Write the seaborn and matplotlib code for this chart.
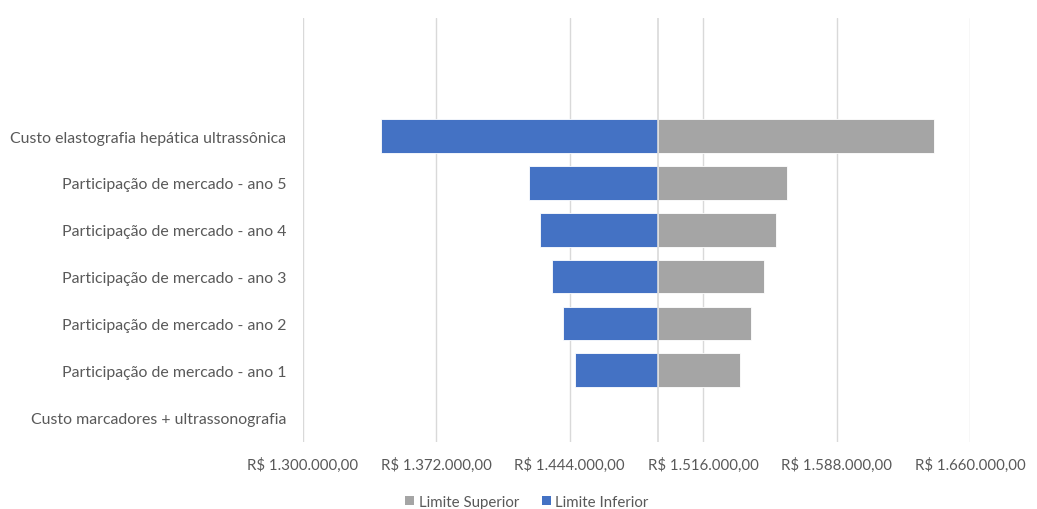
import matplotlib
matplotlib.use("Agg")
import matplotlib.pyplot as plt
from matplotlib.ticker import FixedLocator, FuncFormatter
from matplotlib.patches import Patch
import numpy as np
import pandas as pd
import seaborn as sns

# Tornado chart: sensitivity of the result to each parameter
base_value = 1491400

categories = [
    "Custo elastografia hepática ultrassônica",
    "Participação de mercado - ano 5",
    "Participação de mercado - ano 4",
    "Participação de mercado - ano 3",
    "Participação de mercado - ano 2",
    "Participação de mercado - ano 1",
    "Custo marcadores + ultrassonografia",
]
limite_inferior = [1342000, 1422000, 1428100, 1434300, 1440500, 1446700, 1491400]
limite_superior = [1640400, 1561300, 1555100, 1548900, 1541900, 1535800, 1491400]

tick_values = [1300000, 1372000, 1444000, 1516000, 1588000, 1660000]

COLOR_SUP = "#A5A5A5"
COLOR_INF = "#4472C4"
TEXT = "#595959"
GRID = "#D9D9D9"

# Bars are drawn as deviations from the base value; the axis is labelled in absolute R$
df = pd.DataFrame({
    "categoria": categories * 2,
    "serie": ["Limite Superior"] * len(categories) + ["Limite Inferior"] * len(categories),
    "desvio": [v - base_value for v in limite_superior] + [v - base_value for v in limite_inferior],
})

sns.set_theme(style="white")
plt.rcParams["font.family"] = ["Lato", "DejaVu Sans"]

fig = plt.figure(figsize=(10.37, 5.10), dpi=100)
ax = fig.add_axes([0.2919, 0.1314, 0.6438, 0.8313])

sns.barplot(
    data=df, x="desvio", y="categoria", hue="serie", order=categories,
    hue_order=["Limite Superior", "Limite Inferior"],
    palette=[COLOR_SUP, COLOR_INF], dodge=False, width=0.72,
    edgecolor="white", linewidth=0.6, saturation=1, ax=ax, legend=False, zorder=3,
)

ax.set_xlim(tick_values[0] - base_value, tick_values[-1] - base_value)
ax.set_ylim(len(categories) - 1 + 0.53, -2.52)

ax.xaxis.set_major_locator(FixedLocator([t - base_value for t in tick_values]))


def brl(v, pos=None):
    s = f"{v + base_value:,.2f}"
    s = s.replace(",", "X").replace(".", ",").replace("X", ".")
    return "R$ " + s


ax.xaxis.set_major_formatter(FuncFormatter(brl))
ax.grid(axis="x", color=GRID, linewidth=1.0, zorder=0)
ax.axvline(0, color=GRID, linewidth=1.2, zorder=4)

for side in ["top", "right", "bottom", "left"]:
    ax.spines[side].set_visible(False)

ax.set_xlabel("")
ax.set_ylabel("")
ax.tick_params(axis="x", length=0, pad=11, labelsize=10.8, labelcolor=TEXT)
ax.tick_params(axis="y", length=0, pad=12, labelsize=11.4, labelcolor=TEXT)

handles = [Patch(facecolor=COLOR_SUP, edgecolor="none"), Patch(facecolor=COLOR_INF, edgecolor="none")]
fig.legend(
    handles, ["Limite Superior", "Limite Inferior"], loc="center", bbox_to_anchor=(0.508, 0.014),
    ncol=2, frameon=False, fontsize=10.8, labelcolor=TEXT, handlelength=0.6, handleheight=0.6,
    handletextpad=0.3, columnspacing=1.5,
)

fig.savefig("out.png", dpi=100, facecolor="white")
